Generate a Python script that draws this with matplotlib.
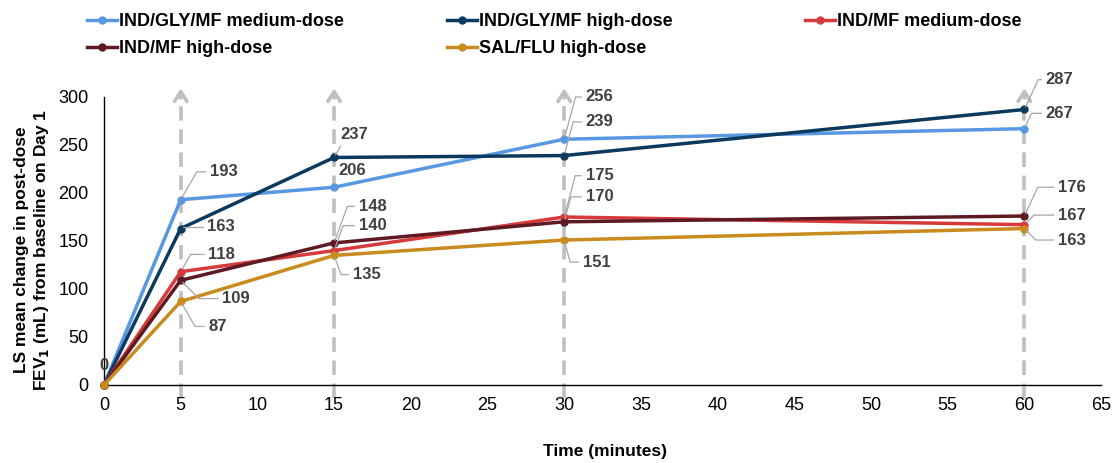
import matplotlib
matplotlib.use("Agg")
import matplotlib.pyplot as plt
from matplotlib.lines import Line2D

plt.rcParams['font.family'] = ['Liberation Sans', 'DejaVu Sans']

times = [0, 5, 15, 30, 60]
series_names = ["IND/GLY/MF medium-dose", "IND/GLY/MF high-dose", "IND/MF medium-dose",
                "IND/MF high-dose", "SAL/FLU high-dose"]
gly_med = [0, 193, 206, 256, 267]
gly_high = [0, 163, 237, 239, 287]
mf_med = [0, 118, 140, 175, 167]
mf_high = [0, 109, 148, 170, 176]
sal_flu = [0, 87, 135, 151, 163]
series = [gly_med, gly_high, mf_med, mf_high, sal_flu]
colors = ["#5897E2", "#0B3A5E", "#D63A3A", "#5E1A22", "#C98A1E"]

xticks = list(range(0, 70, 5))
yticks = list(range(0, 350, 50))
highlight_times = [5, 15, 30, 60]

# label layout: (series index, time index, text x, text y, leader angle or None)
labels = [
    (0, 1, 6.9, 222, 60), (1, 1, 6.7, 165, 60), (2, 1, 6.8, 136, 60),
    (3, 1, 7.7, 90, -45), (4, 1, 6.8, 61, -60),
    (1, 2, 15.4, 261, 60), (0, 2, 15.25, 223, None), (3, 2, 16.6, 186, 70),
    (2, 2, 16.6, 166, 70), (4, 2, 16.2, 115, -70),
    (0, 3, 31.4, 300, 75), (1, 3, 31.4, 274, 75), (2, 3, 31.4, 218, 75),
    (3, 3, 31.4, 196, 75), (4, 3, 31.2, 128, -75),
    (1, 4, 61.4, 318, 65), (0, 4, 61.4, 283, 65), (3, 4, 62.2, 206, 65),
    (2, 4, 62.2, 177, 45), (4, 4, 62.2, 151, -45),
]

fig = plt.figure(figsize=(11.16, 4.63), dpi=100)
ax = fig.add_axes([0.0932, 0.1685, 0.8934, 0.622])

for t in highlight_times:
    ax.plot([t, t], [-14, 303], color="#BFBFBF", lw=2.6, ls=(0, (4, 2.4)),
            clip_on=False, zorder=1)
    ax.annotate("", xy=(t, 309), xytext=(t, 299),
                arrowprops=dict(arrowstyle="->,head_length=0.7,head_width=0.45",
                                color="#BFBFBF", lw=2.6, shrinkA=0, shrinkB=0),
                annotation_clip=False, zorder=1)

handles = []
for name, vals, c in zip(series_names, series, colors):
    h, = ax.plot(times, vals, color=c, lw=2.5, marker="o", markersize=5,
                 label=name, clip_on=False, zorder=3)
    handles.append(h)

for si, ti, tx, ty, ang in labels:
    val = series[si][ti]
    kw = {}
    if ang is not None:
        kw["arrowprops"] = dict(arrowstyle="-", color="#A6A6A6", lw=0.9,
                                connectionstyle=f"angle,angleA=0,angleB={ang},rad=0",
                                relpos=(0, 0.5), shrinkA=1, shrinkB=2)
    ax.annotate(str(val), xy=(times[ti], val), xytext=(tx, ty), ha="left",
                va="center", fontsize=12, fontweight="bold", color="#404040",
                annotation_clip=False, zorder=4, **kw)

ax.text(0, 20, "0", ha="center", va="center", fontsize=12, fontweight="bold",
        color="#404040", zorder=4)

ax.set_xlim(0, 65)
ax.set_ylim(0, 300)
ax.set_xticks(xticks)
ax.set_yticks(yticks)
ax.tick_params(length=0, labelsize=13, pad=9)
ax.tick_params(axis="y", pad=11)
for s in ["top", "right"]:
    ax.spines[s].set_visible(False)
ax.spines["left"].set_linewidth(1.0)
ax.spines["bottom"].set_linewidth(1.0)

ax.set_xlabel("Time (minutes)", fontsize=12.5, fontweight="bold")
ax.xaxis.set_label_coords(0.5025, -0.205)
ax.set_ylabel("LS mean change in post-dose\nFEV$_\\mathbf{1}$ (mL) from baseline on Day 1",
              fontsize=12.5, fontweight="bold")
ax.yaxis.set_label_coords(-0.053, 0.47)

# legend: three columns, rows filled left to right
columns = [[0, 3], [1, 4], [2]]
col_x_px = [87, 447, 805]
W, H = 1116, 463
for col, xpx in zip(columns, col_x_px):
    hs = [Line2D([], [], color=colors[i], lw=2.5, marker="o", markersize=5) for i in col]
    fig.legend(hs, [series_names[i] for i in col], loc="upper left",
               bbox_to_anchor=(xpx / W, 1 - 13 / H), frameon=False,
               prop=dict(size=13, weight="bold"), handlelength=1.66,
               handletextpad=0.1, labelspacing=0.58, borderpad=0, borderaxespad=0)

fig.savefig("out.png", dpi=100)
